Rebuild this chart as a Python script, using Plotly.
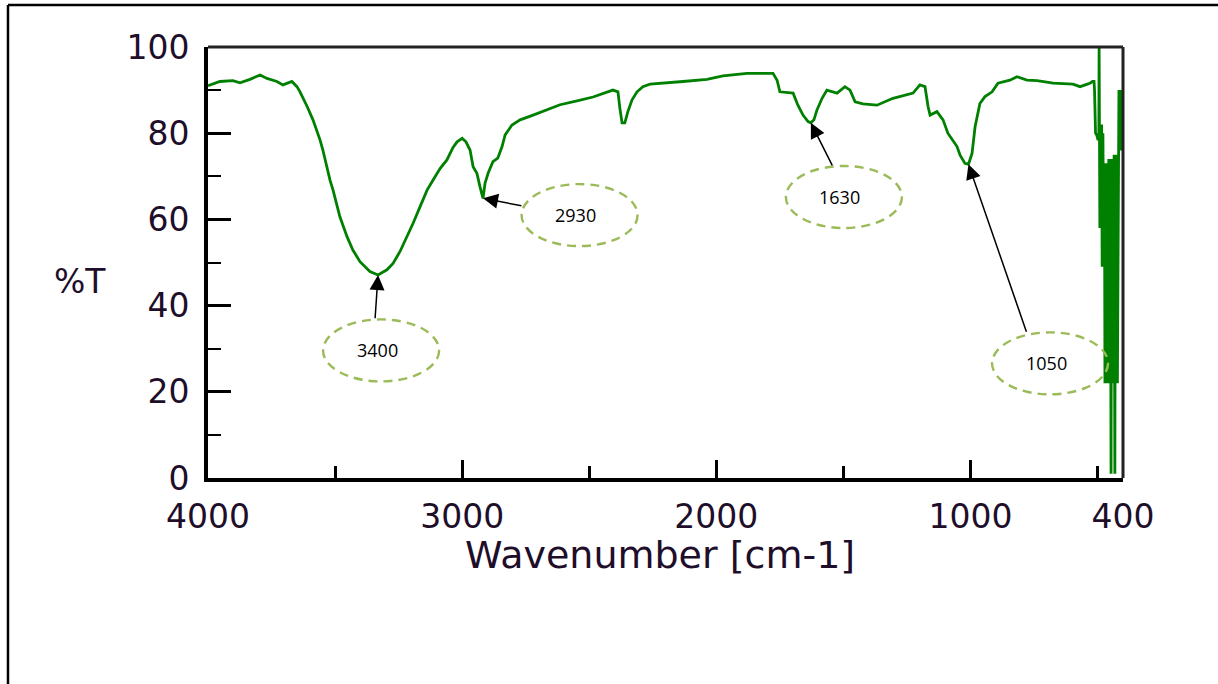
import numpy as np
import plotly.graph_objects as go

# FTIR spectrum: wavenumber (cm-1) and transmittance (%T)
wavenumber = [
    4000, 3992, 3953, 3902, 3874, 3835, 3795, 3768, 3729, 3705, 3670, 3650, 3638,
    3610, 3587, 3559, 3548, 3520, 3508, 3481, 3453, 3430, 3402, 3363, 3331, 3296,
    3272, 3245, 3217, 3193, 3166, 3138, 3115, 3087, 3060, 3036, 3020, 3000, 2985,
    2969, 2957, 2942, 2930, 2918, 2910, 2898, 2879, 2860, 2843, 2831, 2804, 2772,
    2721, 2666, 2615, 2548, 2485, 2407, 2387, 2380, 2371, 2360, 2348, 2332, 2312,
    2289, 2261, 2131, 2037, 1974, 1879, 1777, 1761, 1750, 1698, 1679, 1659, 1639,
    1628, 1616, 1604, 1584, 1565, 1525, 1494, 1474, 1454, 1423, 1368, 1305, 1238,
    1226, 1199, 1179, 1167, 1159, 1132, 1108, 1089, 1069, 1053, 1041, 1022, 1008,
    994, 982, 963, 943, 915, 892, 845, 817, 778, 738, 675, 597, 569, 540, 530,
    520, 514, 512, 508, 503, 498, 495, 494, 491, 489, 486, 484, 482, 479, 476,
    473, 471, 468, 465, 462, 459, 456, 453, 450, 447, 445, 442, 440, 437, 435,
    432, 430, 427, 425, 422, 419, 416, 413, 410, 407, 404, 402, 400,
]
transmittance = [
    91.0, 91.2, 92.0, 92.2, 91.7, 92.5, 93.5, 92.7, 92.0, 91.2, 92.0, 90.8, 89.6,
    86.2, 83.1, 78.4, 76.1, 69.1, 66.8, 60.6, 56.0, 52.9, 50.2, 47.9, 47.1, 48.3,
    49.8, 52.5, 56.0, 59.1, 62.9, 66.8, 69.1, 71.8, 73.8, 76.7, 78.0, 78.8, 78.0,
    76.1, 72.2, 70.7, 67.6, 64.9, 68.4, 70.7, 73.4, 74.2, 76.9, 79.6, 81.9, 83.1,
    84.2, 85.4, 86.6, 87.5, 88.4, 90.0, 89.6, 86.0, 82.4, 82.4, 85.0, 87.7, 89.6,
    90.8, 91.4, 92.0, 92.5, 93.3, 93.9, 93.9, 92.3, 89.6, 89.3, 86.5, 84.2, 82.7,
    82.4, 83.1, 85.4, 88.1, 90.0, 89.3, 90.8, 90.0, 87.3, 86.8, 86.5, 88.1, 89.1,
    89.3, 91.2, 90.8, 86.2, 84.2, 85.0, 83.1, 80.0, 78.4, 76.9, 74.9, 73.0, 72.8,
    75.3, 81.5, 86.9, 88.5, 89.6, 91.6, 92.3, 93.1, 92.3, 92.2, 91.6, 91.4, 90.8,
    91.4, 91.6, 92.0, 92.0, 90.0, 80.0, 79.5, 78.4, 80.0, 100.0, 58.0, 82.0, 58.0,
    82.0, 49.0, 80.0, 49.0, 73.0, 22.0, 73.0, 22.0, 73.0, 22.0, 74.0, 22.0, 74.0,
    1.0, 74.0, 22.0, 74.0, 22.0, 75.0, 1.0, 75.0, 22.0, 75.0, 22.0, 75.0, 90.0,
    76.0, 90.0, 76.0, 90.0, 85.0, 85.0,
]

# Assigned bands and their callout labels
band_centers = [3400, 2930, 1630, 1050]
band_labels = ["3400", "2930", "1630", "1050"]

# Callout bubble centres and arrow tails (axis units)
bubble_x = [3319, 2538, 1498, 687]
bubble_y = [29.6, 61.0, 65.2, 26.6]
tail_x = [3343, 2761, 1541, 778]
tail_y = [36.7, 63.1, 72.2, 33.6]

TEXT = "#1e0e2a"
TICK_FONT = dict(family="DejaVu Sans", size=33, color=TEXT)

wn = np.array(wavenumber, dtype=float)
tr = np.array(transmittance, dtype=float)

fig = go.Figure()
fig.add_trace(go.Scatter(
    x=wn, y=tr, mode="lines",
    line=dict(color="#008000", width=2.8),
    hoverinfo="skip", showlegend=False,
))

# Arrow tip sits on the local minimum of the band
annotations = []
shapes = []
for c, lab, bx, by, tx, ty in zip(band_centers, band_labels, bubble_x, bubble_y, tail_x, tail_y):
    win = (wn <= c + 110) & (wn >= c - 110)
    idx = np.where(win)[0]
    k = idx[np.argmin(tr[idx])]
    annotations.append(dict(
        x=wn[k], y=tr[k], xref="x", yref="y",
        ax=tx, ay=ty, axref="x", ayref="y",
        text="", showarrow=True, arrowhead=2, arrowsize=2.0,
        arrowwidth=1.5, arrowcolor="black", standoff=0,
    ))
    annotations.append(dict(
        x=bx, y=by, xref="x", yref="y", text=lab, showarrow=False,
        xshift=-4, font=dict(family="Open Sans", size=18, color="black"),
    ))
    shapes.append(dict(
        type="circle", xref="x", yref="y",
        xsizemode="pixel", ysizemode="pixel", xanchor=bx, yanchor=by,
        x0=-58, x1=58, y0=-31, y1=31,
        line=dict(color="#9bbb59", width=2.4, dash="9px,6px"),
    ))

# Axis titles
annotations.append(dict(
    x=-0.14, y=0.455, xref="paper", yref="paper", text="%T", showarrow=False,
    xanchor="center", yanchor="middle", font=TICK_FONT,
))
annotations.append(dict(
    x=0.494, y=-0.179, xref="paper", yref="paper", text="Wavenumber [cm-1]",
    showarrow=False, xanchor="center", yanchor="middle",
    font=dict(family="DejaVu Sans", size=38, color=TEXT),
))

# Top and right frame of the plot box
shapes.append(dict(type="line", xref="paper", yref="paper", x0=0, x1=1, y0=1, y1=1,
                   line=dict(color="#222222", width=3)))
shapes.append(dict(type="line", xref="paper", yref="paper", x0=1, x1=1, y0=0, y1=1,
                   line=dict(color="#222222", width=3)))
# Outer page frame (left and top)
shapes.append(dict(type="line", xref="paper", yref="paper", x0=-0.2186, x1=-0.2186,
                   y0=1.0975, y1=-0.6, line=dict(color="black", width=2.5)))
shapes.append(dict(type="line", xref="paper", yref="paper", x0=-0.2186, x1=1.2,
                   y0=1.0975, y1=1.0975, line=dict(color="black", width=2.5)))

fig.update_layout(
    width=1218, height=684,
    margin=dict(l=208, r=95, t=47, b=206),
    paper_bgcolor="white", plot_bgcolor="white",
    showlegend=False,
    annotations=annotations, shapes=shapes,
    xaxis=dict(
        range=[4000, 400], showgrid=False, zeroline=False,
        showline=True, linecolor="black", linewidth=4,
        tickmode="array", tickvals=[4000, 3000, 2000, 1000, 400],
        ticktext=["4000", "3000", "2000", "1000", "400"],
        ticks="inside", ticklen=18, tickwidth=3, tickcolor="black",
        tickfont=TICK_FONT, ticklabelstandoff=6,
        minor=dict(tickmode="array", tickvals=[3500, 2500, 1500, 500],
                   ticks="inside", ticklen=12, tickwidth=2.5, tickcolor="black",
                   showgrid=False),
    ),
    yaxis=dict(
        range=[0, 100], showgrid=False, zeroline=False,
        showline=True, linecolor="black", linewidth=4,
        tickmode="array", tickvals=[0, 20, 40, 60, 80, 100],
        ticks="inside", ticklen=23, tickwidth=3, tickcolor="black",
        tickfont=TICK_FONT, ticklabelstandoff=8,
        minor=dict(tickmode="array", tickvals=[10, 30, 50, 70, 90],
                   ticks="inside", ticklen=13, tickwidth=2, tickcolor="black",
                   showgrid=False),
    ),
)

fig.write_html("out.html")
